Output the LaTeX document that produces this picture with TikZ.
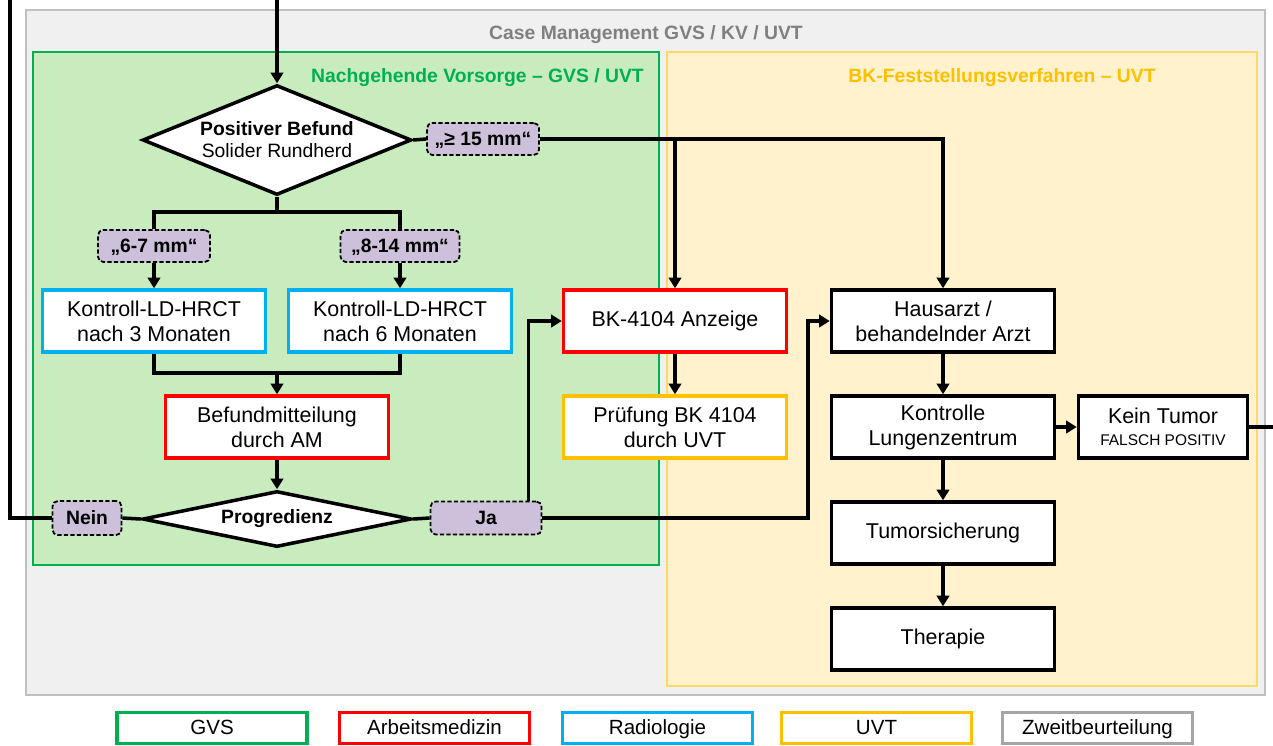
\documentclass[tikz,border=0pt]{standalone}
\usepackage{fontspec}
\setmainfont{Liberation Sans}
\usepackage{xcolor}
\definecolor{CaseGrey}{RGB}{240,240,240}
\definecolor{CaseLine}{RGB}{191,191,191}
\definecolor{CaseText}{RGB}{128,128,128}
\definecolor{GVSFill}{RGB}{201,236,191}
\definecolor{GVSGreen}{RGB}{0,176,80}
\definecolor{UVTFill}{RGB}{255,242,204}
\definecolor{UVTLine}{RGB}{255,217,102}
\definecolor{UVTOrange}{RGB}{255,192,0}
\definecolor{AMRed}{RGB}{255,0,0}
\definecolor{RadBlue}{RGB}{0,176,240}
\definecolor{ZBGrey}{RGB}{166,166,166}
\definecolor{TagFill}{RGB}{204,192,218}
\usepackage{tikz}
\usetikzlibrary{arrows.meta, calc, shapes.geometric}

\newcommand{\boxfont}{\fontsize{12.2}{14.2}\selectfont}
\newcommand{\tagfont}{\fontsize{11}{12.5}\selectfont\bfseries}
\newcommand{\smallfont}{\fontsize{8.8}{10}\selectfont}

\tikzset{
  stepbox/.style={draw, line width=2pt, fill=white, align=center,
    minimum width=4.46cm, minimum height=1.24cm, inner sep=1pt, font=\boxfont},
  tagbox/.style={draw, line width=1pt, dash pattern=on 2.5pt off 1.2pt,
    rounded corners=3pt, fill=TagFill, minimum height=0.64cm, inner sep=1pt,
    font=\tagfont, text height=0.92em, text depth=0.2em},
  decision/.style={diamond, draw, line width=2pt, fill=white, align=center,
    inner sep=0pt, font=\tagfont},
  legendbox/.style={draw, line width=2pt, fill=white, minimum width=3.8cm,
    minimum height=0.62cm, inner sep=1pt, font=\fontsize{11.7}{13}\selectfont,
    text height=0.92em, text depth=0.2em},
  conn/.style={line width=2pt},
  arrow/.style={conn, -{Triangle[length=6pt, width=7pt]}},
}

\begin{document}
\begin{tikzpicture}[x=0.02cm, y=-0.02cm]
	\useasboundingbox (0,0) rectangle (1273,745);

	% areas
	\filldraw[fill=CaseGrey, draw=CaseLine, line width=0.9pt] (26,10) rectangle (1265,695);
	\filldraw[fill=GVSFill, draw=GVSGreen, line width=0.6pt] (33,52) rectangle (659,565);
	\filldraw[fill=UVTFill, draw=UVTLine, line width=0.8pt] (667,52) rectangle (1257,686);

	\node[font=\tagfont, text=CaseText] (casetitle) at (646,35) {Case Management GVS / KV / UVT};
	\node[font=\tagfont, text=GVSGreen, anchor=east] (gvstitle) at (650,78) {Nachgehende Vorsorge – GVS / UVT};
	\node[font=\tagfont, text=UVTOrange] (uvttitle) at (1002,78) {BK-Feststellungsverfahren – UVT};

	% decisions
	\node[decision, aspect=2.45, minimum width=5.38cm, minimum height=2.2cm] (befund) at (277,140)
		{Positiver Befund\\{\mdseries Solider Rundherd}};
	\node[decision, aspect=4.8, minimum width=5.38cm, minimum height=1.12cm] (progr) at (277,519) {Progredienz};

	% size labels
	\node[tagbox, minimum width=2.24cm] (tag15) at (483,139) {„≥ 15 mm“};
	\node[tagbox, minimum width=2.24cm] (tag67) at (154,246) {„6-7 mm“};
	\node[tagbox, minimum width=2.38cm] (tag814) at (400,246) {„8-14 mm“};
	\node[tagbox, minimum width=1.38cm, minimum height=0.68cm] (nein) at (87,518) {Nein};
	\node[tagbox, minimum width=2.22cm, minimum height=0.66cm] (ja) at (486,518) {Ja};

	% steps
	\node[stepbox, draw=RadBlue] (ct3) at (154,321) {Kontroll-LD-HRCT\\nach 3 Monaten};
	\node[stepbox, draw=RadBlue] (ct6) at (400,321) {Kontroll-LD-HRCT\\nach 6 Monaten};
	\node[stepbox, draw=AMRed] (mitteilung) at (277,427) {Befundmitteilung\\durch AM};
	\node[stepbox, draw=AMRed] (anzeige) at (675,321) {BK-4104 Anzeige};
	\node[stepbox, draw=UVTOrange] (pruefung) at (675,427) {Prüfung BK 4104\\durch UVT};
	\node[stepbox] (hausarzt) at (943,321) {Hausarzt /\\behandelnder Arzt};
	\node[stepbox] (lungen) at (943,427) {Kontrolle\\Lungenzentrum};
	\node[stepbox, minimum width=3.38cm] (keintumor) at (1163,427) {Kein Tumor\\[-2pt]{\smallfont FALSCH POSITIV}};
	\node[stepbox] (tumorsich) at (943,533) {Tumorsicherung};
	\node[stepbox] (therapie) at (943,639) {Therapie};

	% connectors
	\coordinate (topin) at (277,0);
	\coordinate (leftup) at (10,0);
	\coordinate (fork) at (277,212);
	\coordinate (join) at (277,373);
	\coordinate (jaturn) at (808,321);
	\coordinate (outright) at (1273,427);

	\draw[arrow] (topin) -- (befund.north);
	\draw[conn] (befund.east) -- (tag15.west);
	\draw[arrow] (tag15.east) -| (hausarzt.north);
	\draw[arrow] (tag15.east -| anzeige.north) -- (anzeige.north);
	\draw[conn] (befund.south) -- (fork);
	\draw[conn] (tag67.north) |- (fork) -| (tag814.north);
	\draw[arrow] (tag67) -- (ct3);
	\draw[arrow] (tag814) -- (ct6);
	\draw[conn] (ct3.south) |- (join) -| (ct6.south);
	\draw[arrow] (join) -- (mitteilung.north);
	\draw[arrow] (mitteilung) -- (progr);
	\draw[conn] (progr.west) -- (nein.east);
	\draw[conn] (nein.west) -| (leftup);
	\draw[conn] (progr.east) -- (ja.west);
	\draw[arrow] ($ (ja.north east)+(-14,0) $) |- (anzeige.west);
	\draw[arrow] (ja.east) -| (jaturn) -- (hausarzt.west);
	\draw[arrow] (anzeige) -- (pruefung);
	\draw[arrow] (hausarzt) -- (lungen);
	\draw[arrow] (lungen) -- (keintumor);
	\draw[arrow] (lungen) -- (tumorsich);
	\draw[arrow] (tumorsich) -- (therapie);
	\draw[conn] (keintumor.east) -- (outright);

	% legend
	\node[legendbox, draw=GVSGreen] (lgvs) at (212,728) {GVS};
	\node[legendbox, draw=AMRed] (lam) at (434.5,728) {Arbeitsmedizin};
	\node[legendbox, draw=RadBlue] (lrad) at (657.5,728) {Radiologie};
	\node[legendbox, draw=UVTOrange] (luvt) at (876.5,728) {UVT};
	\node[legendbox, draw=ZBGrey] (lzb) at (1097.5,728) {Zweitbeurteilung};

\end{tikzpicture}
\end{document}
